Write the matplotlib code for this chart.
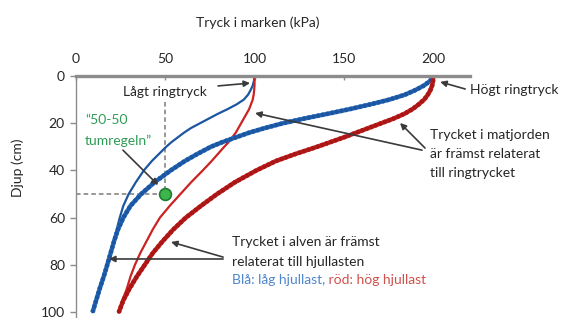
import numpy as np
import matplotlib.pyplot as plt

plt.rcParams['font.family'] = ['Lato', 'DejaVu Sans']

# Data: depth (cm) and pressure (kPa) for the four curves
depth = [0, 2, 4, 6, 8, 10, 12, 14, 16, 18, 20, 22, 24, 26, 28, 30, 33, 36, 40, 45,
         50, 55, 60, 65, 70, 75, 80, 85, 90, 95, 100]
low_ring_low_load = [100, 99.7, 99, 97.8, 96.3, 94, 90, 85, 79.5, 74.5, 69.5, 64.5, 60.5, 57,
                     53.5, 50.5, 46.5, 42.5, 38, 33.5, 29.5, 26.5, 24.5, 22.8, 21, 19.3, 17.5,
                     15.5, 13.3, 11.3, 9.3]
low_ring_high_load = [100, 100, 100, 99.8, 99.5, 99, 98, 97, 95.5, 94, 92.5, 91, 89.5, 87.5,
                      85.5, 83, 79.5, 76, 71, 64.5, 58.5, 52.5, 47, 43, 39.5, 36, 33, 30.5,
                      28.5, 26, 24]
high_ring_low_load = [200, 198.5, 195, 190, 184, 175.5, 165, 153.5, 141, 128, 116, 106, 97,
                      89.5, 82, 75.5, 68, 61, 53, 44, 36.5, 30.5, 26.5, 23.5, 21.3, 19.4, 17.5,
                      15.5, 13.3, 11.3, 9.3]
high_ring_high_load = [200, 200, 199.5, 198.5, 197, 195, 192, 188.5, 184, 178, 171, 164, 157,
                       150, 142.5, 135, 123, 112, 101, 89, 79, 70, 61.5, 54.5, 48.5, 43, 38.5,
                       34, 30, 26.5, 24]
xticks = [0, 50, 100, 150, 200]
yticks = [0, 20, 40, 60, 80, 100]
rule_point = (50, 50)

blue = '#2a73c4'
blue_dark = '#1c55a0'
red = '#cc2222'
red_dark = '#a81616'
grey = '#8c8c8c'
arrow_col = '#3a3a3a'

fig = plt.figure(figsize=(5.64, 3.18), dpi=100)
ax = fig.add_axes([76 / 564, 0, (470 - 76) / 564, 242 / 318])
ax.set_xlim(0, 220.7)
ax.set_ylim(102.5, 0)

# dashed guide lines for the 50-50 rule
ax.plot([0, rule_point[0]], [rule_point[1], rule_point[1]], ls=(0, (3, 2)), color='#7a7a7a', lw=1.1)
ax.plot([rule_point[0], rule_point[0]], [11, rule_point[1]], ls=(0, (3, 2)), color='#7a7a7a', lw=1.1)

# thin lines: low ring pressure
ax.plot(low_ring_low_load, depth, color=blue_dark, lw=1.6, solid_capstyle='butt')
ax.plot(low_ring_high_load, depth, color=red, lw=1.6, solid_capstyle='butt')

# thick beaded lines: high ring pressure
for xs, c, cd in [(high_ring_low_load, blue, blue_dark), (high_ring_high_load, red, red_dark)]:
    ax.plot(xs, depth, color=c, lw=3.2, solid_capstyle='butt')
    ax.plot(xs, depth, color=cd, lw=3.4, ls=(0, (0.01, 1.0)), dash_capstyle='round')

ax.plot(*rule_point, 'o', ms=8.5, mfc='#3cb54a', mec='#1f7a32', mew=1.2, zorder=5)

# axes styling
ax.xaxis.tick_top()
ax.set_xticks(xticks)
ax.set_yticks(yticks)
ax.tick_params(axis='x', direction='in', length=3, width=1, color=grey, pad=8,
               labelsize=10, labelcolor='#262626')
ax.tick_params(axis='y', direction='out', length=4, width=1, color=grey, pad=4,
               labelsize=10, labelcolor='#262626')
for s in ['right', 'bottom']:
    ax.spines[s].set_visible(False)
ax.spines['top'].set_color(grey)
ax.spines['top'].set_linewidth(2.4)
ax.spines['left'].set_color(grey)
ax.spines['left'].set_linewidth(1)

fig.text(258 / 564, 1 - 23 / 318, 'Tryck i marken (kPa)', ha='center', va='center',
         fontsize=10, color='#262626')
fig.text(18 / 564, 1 - 168 / 318, 'Djup (cm)', ha='center', va='center', rotation=90,
         fontsize=10, color='#262626')

# texts
tk = dict(fontsize=10, color='#262626', va='center', ha='left', clip_on=False)
ax.text(26.3, 6.8, 'Lågt ringtryck', **tk)
ax.text(220.7, 5.9, 'Högt ringtryck', **tk)
ax.text(198.3, 25, 'Trycket i matjorden', **tk)
ax.text(198.3, 33, 'är främst relaterat', **tk)
ax.text(198.3, 41, 'till ringtrycket', **tk)
ax.text(87.4, 70.3, 'Trycket i alven är främst', **tk)
ax.text(87.4, 78.8, 'relaterat till hjullasten', **tk)
t1 = ax.text(87.4, 86.4, 'Blå: låg hjullast,', fontsize=10, color='#4f86cc', va='center', ha='left')
ax.annotate(' röd: hög hjullast', xy=(1, 0.5), xycoords=t1, va='center', ha='left',
            fontsize=10, color='#d0504a')
ax.text(5, 18.6, '“50-50', fontsize=10, color='#2f9c55', va='center', ha='left')
ax.text(5, 27.5, 'tumregeln”', fontsize=10, color='#2f9c55', va='center', ha='left')

# arrows
arrows = [((79.6, 4.2), (97.5, 3.0)),
          ((218, 5.5), (204, 2.5)),
          ((193.8, 31.4), (100.3, 15.7)),
          ((195.5, 30.5), (181.5, 19.9)),
          ((82.4, 77.5), (18.5, 77.5)),
          ((82.4, 76.7), (53.2, 70.3)),
          ((26.3, 31.4), (46, 46.2))]
for start, end in arrows:
    ax.annotate('', xy=end, xytext=start, annotation_clip=False,
                arrowprops=dict(arrowstyle='-|>', color=arrow_col, lw=1.2,
                                mutation_scale=9, shrinkA=0, shrinkB=0))

fig.savefig('out.png', dpi=100)
